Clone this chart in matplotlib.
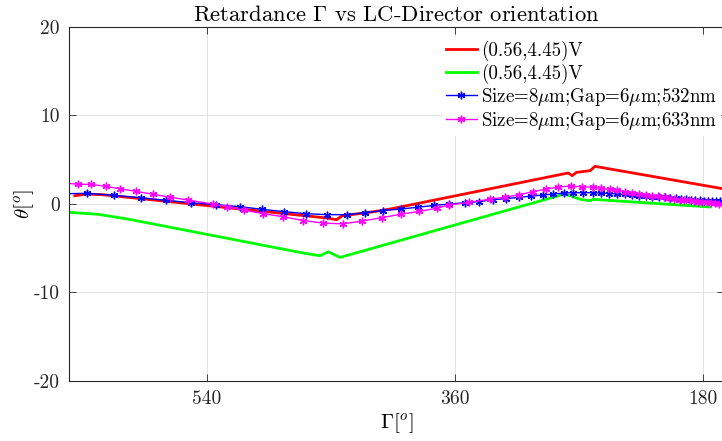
import matplotlib
matplotlib.use("Agg")
import matplotlib.pyplot as plt

plt.rcParams['font.family'] = 'serif'
plt.rcParams['font.serif'] = ['cmr10']
plt.rcParams['mathtext.fontset'] = 'cm'
plt.rcParams['axes.unicode_minus'] = False
plt.rcParams['axes.formatter.use_mathtext'] = True

# ---- data ----
red_x = [636, 627, 616, 453, 446, 442, 424, 407, 278, 275, 272, 262, 258.5, 166]
red_y = [0.9, 1.09, 1.02, -1.62, -1.81, -1.36, -1.02, -0.6, 3.47, 3.17, 3.54, 3.73, 4.22, 1.7]

green_x = [640, 619, 597, 471, 458, 452, 443.5, 280.5, 268, 262, 259.6, 175]
green_y = [-0.98, -1.2, -1.75, -5.55, -5.88, -5.43, -6.07, 1.09, 0.45, 0.34, 0.49, -0.37]

blue_x = [646, 627, 607.3, 588.1, 569.8, 551.6, 533.7, 516.0, 499.9, 483.9, 468.1,
          453.1, 438.6, 425.3, 412.0, 399.2, 387.2, 375.2, 364.3, 352.5, 342.5,
          332.6, 323.1, 313.7, 305.1, 296.5, 288.6, 280.8, 274.1, 267.0, 260.2,
          254.0, 248.0, 242.2, 236.6, 231.3, 226.4, 221.5, 216.8, 212.2, 207.9,
          203.9, 200.0, 196.1, 192.6, 189.1, 185.7, 182.5, 179.4, 176.4, 173.5,
          170.6, 167.8]
blue_y = [1.12, 1.17, 0.94, 0.68, 0.38, 0.11, -0.11, -0.34, -0.64, -0.90, -1.13,
          -1.24, -1.24, -1.02, -0.77, -0.60, -0.40, -0.19, -0.04, 0.11, 0.24,
          0.45, 0.57, 0.72, 0.85, 0.98, 1.09, 1.21, 1.24, 1.24, 1.24,
          1.19, 1.15, 1.09, 1.04, 0.98, 0.92, 0.88, 0.81, 0.77, 0.71,
          0.66, 0.60, 0.55, 0.51, 0.47, 0.43, 0.40, 0.36, 0.33, 0.31,
          0.29, 0.26]

mag_x = [644, 633.9, 624.2, 613.5, 603.1, 591.5, 579.4, 566.9, 553.6, 535.9, 525.7,
         513.1, 499.1, 484.8, 470.3, 455.8, 441.7, 427.4, 413.2, 399.5, 386.2,
         373.5, 364.5, 350.0, 334.6, 323.7, 313.6, 303.4, 294.0, 285.3, 276.2,
         267.9, 260.2, 254.0, 247.5, 242.2, 236.6, 231.3, 226.5, 221.6, 217.0,
         212.7, 208.3, 204.5, 200.8, 196.9, 193.6, 190.2, 186.8, 183.6, 180.5,
         177.5, 174.5, 171.6, 168.7]
mag_y = [2.35, 2.19, 2.19, 1.96, 1.68, 1.39, 1.07, 0.73, 0.41, -0.03, -0.34,
         -0.73, -1.13, -1.47, -1.90, -2.19, -2.28, -1.96, -1.58, -1.19, -0.88,
         -0.51, -0.15, 0.15, 0.51, 0.75, 1.0, 1.37, 1.64, 1.88, 2.0,
         1.89, 1.87, 1.73, 1.62, 1.51, 1.36, 1.24, 1.13, 1.02, 0.90,
         0.83, 0.71, 0.64, 0.57, 0.45, 0.41, 0.38, 0.30, 0.23, 0.19,
         0.15, 0.11, 0.03, -0.03]

labels = ['(0.56,4.45)V', '(0.56,4.45)V',
          r'Size=8$\mu$m;Gap=6$\mu$m;532nm', r'Size=8$\mu$m;Gap=6$\mu$m;633nm']
xticks = [540, 360, 180]
xtick_labels = ['540', '360', '180']
yticks = [-20, -10, 0, 10, 20]
ytick_labels = ['-20', '-10', '0', '10', '20']

fig = plt.figure(figsize=(7.22, 4.41), dpi=100)
ax = fig.add_axes([0.096, 0.1367, 0.9065, 0.8028])

asterisk = (6, 2, 0)
ax.plot(red_x, red_y, color=(1, 0, 0), lw=2.0, label=labels[0])
ax.plot(green_x, green_y, color=(0, 1, 0), lw=2.0, label=labels[1])
ax.plot(blue_x, blue_y, color=(0, 0, 1), lw=1.0, marker=asterisk, ms=5.5,
        mew=1.0, markevery=slice(1, None), label=labels[2])
ax.plot(mag_x, mag_y, color=(1, 0, 1), lw=1.0, marker=asterisk, ms=5.5,
        mew=1.0, markevery=slice(1, None), label=labels[3])

ax.set_xlim(640, 165)
ax.set_ylim(-20, 20)
ax.set_xticks(xticks, labels=xtick_labels)
ax.set_yticks(yticks, labels=ytick_labels)
ax.grid(True, color='#e3e3e3', lw=0.7)
ax.set_axisbelow(True)
ax.tick_params(direction='in', top=True, right=True, length=5, width=0.6,
               labelsize=14, colors='#262626', pad=7)
for s in ax.spines.values():
    s.set_color('#262626')
    s.set_linewidth(0.8)

ax.set_title(r'Retardance $\Gamma$ vs LC-Director orientation', fontsize=16.3,
             color='black', pad=4)
ax.set_xlabel(r'$\Gamma[^o]$', fontsize=15, labelpad=2)
ax.set_ylabel(r'$\theta[^o]$', fontsize=15, labelpad=-2)

leg = ax.legend(loc='upper left', bbox_to_anchor=(0.6123, 0.9159),
                bbox_transform=fig.transFigure, fontsize=13.6, frameon=True,
                fancybox=False, edgecolor='none', facecolor='white', framealpha=1,
                borderpad=0.2, handlelength=1.65, handletextpad=0.2,
                labelspacing=0.12, borderaxespad=0)

fig.savefig('out.png', dpi=100)
